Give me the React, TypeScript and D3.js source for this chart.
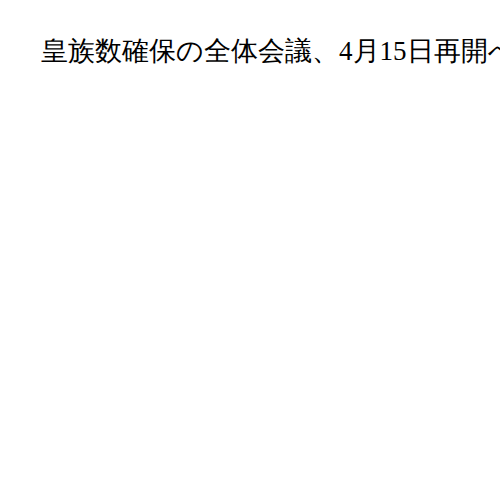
import React from "react";
import * as d3 from "d3";

// Chart contents: only a title, no data series are drawn
const title = "皇族数確保の全体会議、4月15日再開へ";
const categories: string[] = [];
const values: number[] = [];

const width = 500;
const height = 500;
const margins = { top: 60, right: 20, bottom: 40, left: 41 };

const App: React.FC = () => {
  const x = d3
    .scaleBand<string>()
    .domain(categories)
    .range([margins.left, width - margins.right]);
  const y = d3
    .scaleLinear()
    .domain([0, d3.max(values) || 1])
    .range([height - margins.bottom, margins.top]);

  return (
    <svg
      width={width}
      height={height}
      style={{ position: "absolute", left: 0, top: 0, background: "#fff" }}
    >
      <text
        x={margins.left}
        y={margins.top}
        fontSize={27}
        fontFamily="serif"
        fill="#000"
      >
        {title}
      </text>
      {categories.map((c, i) => (
        <rect
          key={c}
          x={x(c)}
          y={y(values[i])}
          width={x.bandwidth()}
          height={y(0) - y(values[i])}
          fill="#4e79a7"
        />
      ))}
    </svg>
  );
};

export default App;
